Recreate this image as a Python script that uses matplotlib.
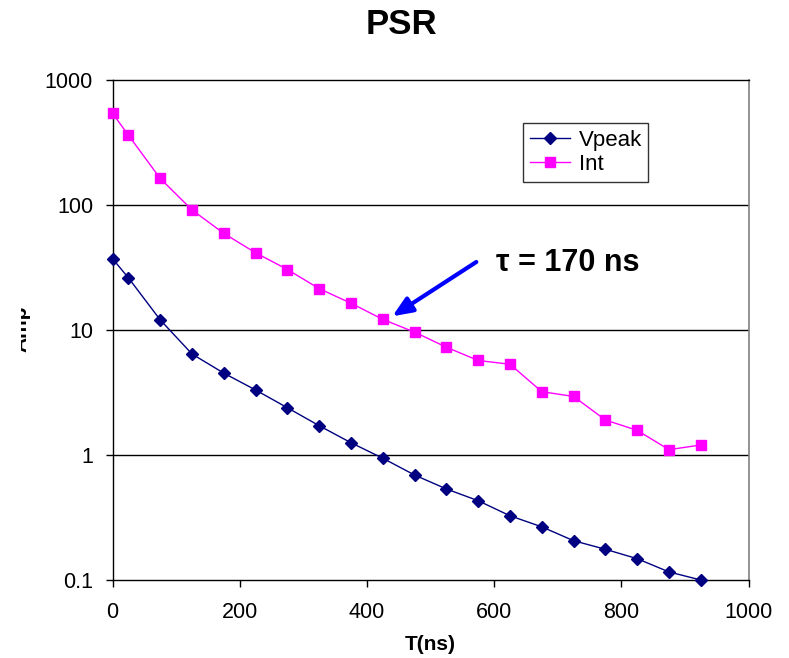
import matplotlib
matplotlib.use("Agg")
import matplotlib.pyplot as plt
from matplotlib.transforms import Bbox

plt.rcParams['font.family'] = ['Liberation Sans', 'DejaVu Sans']

# Decay data
t_ns = [0, 25, 75, 125, 175, 225, 275, 325, 375, 425, 475,
        525, 575, 625, 675, 725, 775, 825, 875, 925]
vpeak = [37, 26, 12, 6.4, 4.5, 3.3, 2.38, 1.71, 1.25, 0.94, 0.69,
         0.534, 0.43, 0.326, 0.266, 0.206, 0.176, 0.148, 0.116, 0.1]
integral = [537, 359, 162, 90.7, 58.9, 41.2, 30.3, 21.3, 16.3, 12.1, 9.57,
            7.25, 5.68, 5.30, 3.20, 2.93, 1.90, 1.57, 1.10, 1.20]

x_ticks = [0, 200, 400, 600, 800, 1000]
y_ticks = [0.1, 1, 10, 100, 1000]
y_ticklabels = ['0.1', '1', '10', '100', '1000']

W, H = 789, 658
fig = plt.figure(figsize=(W / 100, H / 100), dpi=100)
ax = fig.add_axes([112.5 / W, 1 - 580 / H, (748.5 - 112.5) / W, (580 - 79.5) / H])

ax.set_yscale('log')
ax.set_xlim(0, 1000)
ax.set_ylim(0.1, 1000)

for yv in [1, 10, 100]:
    ax.axhline(yv, color='black', lw=1.0, zorder=1)

ax.plot(t_ns, vpeak, color='#000080', lw=1.0, marker='D', ms=6.5,
        mfc='#000080', mec='#000080', label='Vpeak', zorder=3, clip_on=False)
ax.plot(t_ns, integral, color='#FF00FF', lw=1.0, marker='s', ms=7.5,
        mfc='#FF00FF', mec='#FF00FF', label='Int', zorder=3, clip_on=False)

ax.set_xticks(x_ticks)
ax.set_xticklabels([str(v) for v in x_ticks])
ax.set_yticks(y_ticks)
ax.set_yticklabels(y_ticklabels)
ax.yaxis.set_minor_locator(matplotlib.ticker.NullLocator())
ax.tick_params(axis='both', direction='out', length=5, width=1, labelsize=15.5, colors='black')
ax.tick_params(axis='x', pad=11)
ax.tick_params(axis='y', pad=9)

for side in ['left', 'bottom', 'top']:
    ax.spines[side].set_color('black')
    ax.spines[side].set_linewidth(1.0)
ax.spines['right'].set_color('#808080')
ax.spines['right'].set_linewidth(1.2)

leg = ax.legend(loc='upper left', bbox_to_anchor=((523 - 112.5) / 636, 1 - (123 - 79.5) / 500.5),
                fontsize=16, frameon=True, fancybox=False, edgecolor='black',
                handlelength=1.8, handletextpad=0.4, borderpad=0.3, labelspacing=0.15,
                borderaxespad=0)
leg.get_frame().set_linewidth(1.0)

# Lifetime annotation
ax.annotate('', xy=(440, 12.8), xytext=(572, 34.8),
            arrowprops=dict(arrowstyle='-|>,head_length=1.2,head_width=0.5',
                            color='#0000FF', lw=3, shrinkA=0, shrinkB=0))
fig.text(496 / W, 1 - 263 / H, '\u03c4 = 170 ns', fontsize=22, fontweight='bold',
         ha='left', va='center')

fig.text(401 / W, 1 - 24 / H, 'PSR', fontsize=25, fontweight='bold',
         ha='center', va='center')
fig.text(430 / W, 1 - 644 / H, 'T(ns)', fontsize=15, fontweight='bold',
         ha='center', va='center')

ylab = fig.text(30 / W, 1 - 329 / H, 'Amp', fontsize=15, fontweight='bold',
                rotation=90, ha='right', va='center')
ylab.set_clip_box(Bbox([[21, 0], [60, H]]))
ylab.set_clip_on(True)

fig.savefig('out.png', dpi=100, facecolor='white')
